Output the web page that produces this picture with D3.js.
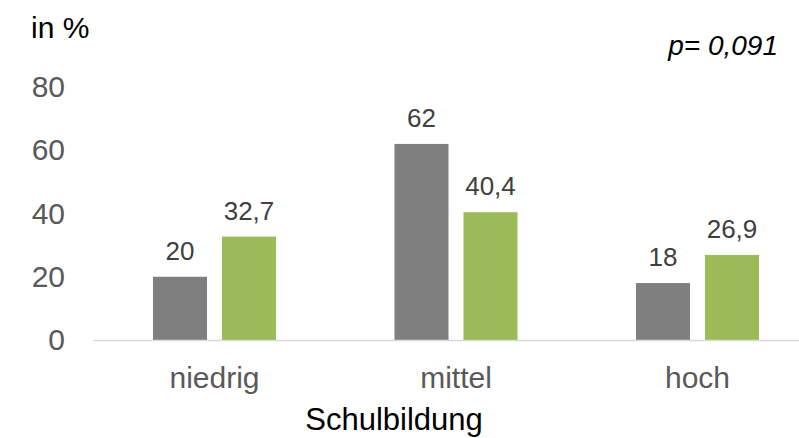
<!DOCTYPE html>
<html>
<head>
<meta charset="utf-8">
<script src="https://cdn.jsdelivr.net/npm/d3@7"></script>
<style>
  html, body { margin: 0; padding: 0; background: #fff; }
  svg { display: block; font-family: "Liberation Sans", Arial, sans-serif; }
</style>
</head>
<body>
<svg id="chart" width="799" height="438"></svg>
<script>
// Schulbildung categories and the two compared groups
const categories = ["niedrig", "mittel", "hoch"];
const seriesNames = ["Gruppe A", "Gruppe B"];
const seriesA = [20, 62, 18];
const seriesB = [32.7, 40.4, 26.9];
const valueLabelsA = ["20", "62", "18"];
const valueLabelsB = ["32,7", "40,4", "26,9"];
const yTicks = [0, 20, 40, 60, 80];
const colors = ["#7f7f7f", "#9bbb59"];

const rows = categories.map((c, i) => ({
  cat: c,
  vals: [
    { s: seriesNames[0], v: seriesA[i], label: valueLabelsA[i] },
    { s: seriesNames[1], v: seriesB[i], label: valueLabelsB[i] }
  ]
}));

const svg = d3.select("#chart");

const x0 = d3.scaleBand().domain(categories).range([93.75, 818.25]).padding(0);
const x1 = d3.scaleBand().domain(seriesNames).range([0, x0.bandwidth()])
  .paddingInner(0.217).paddingOuter(0.858);
const y = d3.scaleLinear().domain([0, 80]).range([340, 87]);

// y tick labels (no axis line, no gridlines)
const yAxis = d3.axisLeft(y).tickValues(yTicks).tickSize(0).tickPadding(0);
const yG = svg.append("g").attr("transform", "translate(65,0)").call(yAxis);
yG.select(".domain").remove();
yG.selectAll("text")
  .attr("fill", "#595959")
  .style("font-size", "30px")
  .style("font-family", "Liberation Sans, Arial, sans-serif");

// bars
const groups = svg.selectAll("g.cat").data(rows).join("g")
  .attr("class", "cat")
  .attr("transform", d => `translate(${x0(d.cat)},0)`);

groups.selectAll("rect").data(d => d.vals).join("rect")
  .attr("x", d => x1(d.s))
  .attr("width", x1.bandwidth())
  .attr("y", d => y(d.v))
  .attr("height", d => y(0) - y(d.v))
  .attr("fill", (d, i) => colors[i]);

groups.selectAll("text.val").data(d => d.vals).join("text")
  .attr("class", "val")
  .attr("x", d => x1(d.s) + x1.bandwidth() / 2)
  .attr("y", d => y(d.v) - 17)
  .attr("text-anchor", "middle")
  .attr("fill", "#404040")
  .style("font-size", "26px")
  .text(d => d.label);

// category axis
const xAxis = d3.axisBottom(x0).tickSize(0).tickPadding(27);
const xG = svg.append("g").attr("transform", `translate(0,${y(0)})`).call(xAxis);
xG.select(".domain").remove();
xG.selectAll("text")
  .attr("fill", "#595959")
  .style("font-size", "30px")
  .style("font-family", "Liberation Sans, Arial, sans-serif");

svg.append("line")
  .attr("x1", 93).attr("x2", 799)
  .attr("y1", y(0) + 0.5).attr("y2", y(0) + 0.5)
  .attr("stroke", "#d9d9d9").attr("stroke-width", 1.5);

// titles
svg.append("text").attr("x", 31).attr("y", 38)
  .attr("fill", "#000").style("font-size", "30px").text("in %");

svg.append("text").attr("x", 394).attr("y", 430)
  .attr("text-anchor", "middle").attr("fill", "#000")
  .style("font-size", "31px").text("Schulbildung");

svg.append("text").attr("x", 778).attr("y", 55)
  .attr("text-anchor", "end").attr("fill", "#000")
  .style("font-size", "28px").style("font-style", "italic")
  .text("p= 0,091");
</script>
</body>
</html>
